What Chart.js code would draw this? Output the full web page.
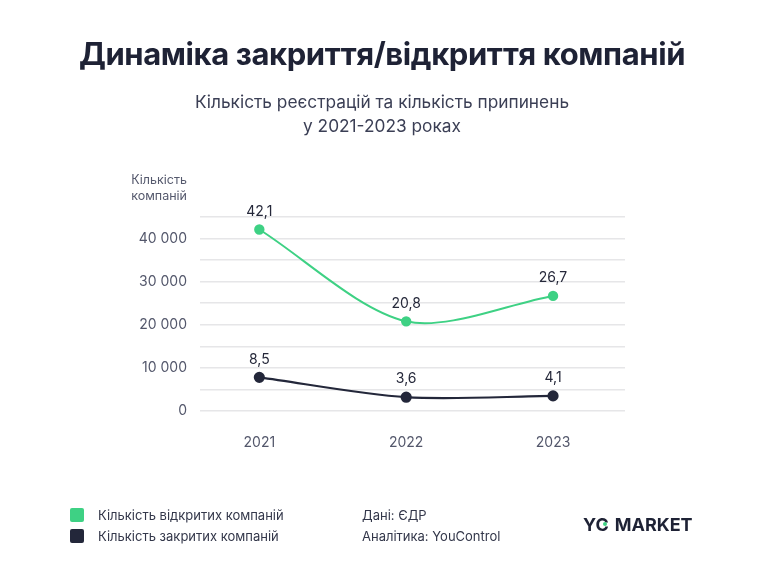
<!DOCTYPE html>
<html>
<head>
<meta charset="utf-8">
<script src="https://cdn.jsdelivr.net/npm/chart.js@4"></script>
<style>
    body { margin: 0; background: #ffffff; font-family: Inter, "Noto Sans", sans-serif; }
    #page { position: relative; width: 764px; height: 582px; overflow: hidden; }
    #chart { position: absolute; left: 0; top: 0; }
    .title { position: absolute; left: 0; width: 764px; top: 35px; text-align: center;
             font-size: 31px; font-weight: 700; color: #1e2235; letter-spacing: -0.4px; }
    .subtitle { position: absolute; left: 0; width: 764px; top: 90px; text-align: center;
                font-size: 17.3px; line-height: 24px; color: #3b3f55; }
    .ytitle { position: absolute; right: 577px; top: 172px; text-align: right;
              font-size: 12.5px; line-height: 16px; color: #55596d; }
    .legend { position: absolute; left: 70px; top: 507px; font-size: 13px; color: #33374a; }
    .legend div { height: 21px; line-height: 16px; position: relative; padding-left: 28px; }
    .legend span { position: absolute; left: 0; top: 1px; width: 14px; height: 14px; border-radius: 2px; }
    .source { position: absolute; left: 362px; top: 507px; font-size: 13px; color: #33374a; }
    .source div { height: 21px; line-height: 16px; }
    .logo { position: absolute; left: 583px; top: 514px; font-size: 18px; font-weight: 700;
            color: #1e2235; letter-spacing: 0; }
    .logo i { display: inline-block; width: 4px; height: 4px; border-radius: 2px; background: #3ed184;
              margin-left: -6px; margin-right: 8px; vertical-align: 5px; }
</style>
</head>
<body>
<div id="page">
    <canvas id="chart" width="764" height="582"></canvas>
    <div class="title">Динаміка закриття/відкриття компаній</div>
    <div class="subtitle">Кількість реєстрацій та кількість припинень<br>у 2021-2023 роках</div>
    <div class="ytitle">Кількість<br>компаній</div>
    <div class="legend" id="legend"></div>
    <div class="source"><div>Дані: ЄДР</div><div>Аналітика: YouControl</div></div>
    <div class="logo">YC<i></i>MARKET</div>
</div>
<script>
// chart data
const years = [2021, 2022, 2023];
const openedValues = [42100, 20800, 26700];
const closedValues = [7800, 3200, 3500];
const openedLabels = ['42,1', '20,8', '26,7'];
const closedLabels = ['8,5', '3,6', '4,1'];
const seriesNames = ['Кількість відкритих компаній', 'Кількість закритих компаній'];
const seriesColors = ['#3ed184', '#23273a'];
const yTicks = [0, 10000, 20000, 30000, 40000];

function formatThousands(v) {
    return String(v).replace(/\B(?=(\d{3})+(?!\d))/g, ' ');
}

// legend in the footer
const legendBox = document.getElementById('legend');
seriesNames.forEach(function(name, i) {
    const row = document.createElement('div');
    row.innerHTML = '<span style="background:' + seriesColors[i] + '"></span>' + name;
    legendBox.appendChild(row);
});

// value labels above the points
const pointLabels = {
    id: 'pointLabels',
    afterDatasetsDraw(chart) {
        const ctx = chart.ctx;
        ctx.save();
        ctx.font = '14px Inter, "Noto Sans", sans-serif';
        ctx.fillStyle = '#25283a';
        ctx.textAlign = 'center';
        ctx.textBaseline = 'middle';
        chart.data.datasets.forEach(function(ds, i) {
            chart.getDatasetMeta(i).data.forEach(function(pt, j) {
                ctx.fillText(ds.valueLabels[j], pt.x, pt.y - 18);
            });
        });
        ctx.restore();
    }
};

new Chart(document.getElementById('chart').getContext('2d'), {
    type: 'line',
    data: {
        datasets: [{
                label: seriesNames[0],
                data: years.map((y, i) => ({ x: y, y: openedValues[i] })),
                valueLabels: openedLabels,
                borderColor: seriesColors[0],
                backgroundColor: seriesColors[0],
                borderWidth: 2,
                pointRadius: 4.2,
                tension: 0.3
            },
            {
                label: seriesNames[1],
                data: years.map((y, i) => ({ x: y, y: closedValues[i] })),
                valueLabels: closedLabels,
                borderColor: seriesColors[1],
                backgroundColor: seriesColors[1],
                borderWidth: 2.2,
                pointRadius: 4.5,
                tension: 0.3
            }
        ]
    },
    options: {
        responsive: false,
        animation: false,
        layout: {
            padding: { top: 217, right: 139, left: 0, bottom: 0 }
        },
        plugins: {
            legend: { display: false },
            tooltip: { enabled: false }
        },
        scales: {
            x: {
                type: 'linear',
                min: 2020.596,
                max: 2023.49,
                afterBuildTicks: function(scale) {
                    scale.ticks = years.map(v => ({ value: v }));
                },
                afterFit: function(scale) { scale.height = 171; },
                grid: { display: false },
                border: { display: false },
                ticks: {
                    padding: 15,
                    color: '#53576b',
                    font: { size: 14, family: 'Inter' },
                    callback: v => String(v)
                }
            },
            y: {
                min: 0,
                max: 45000,
                afterFit: function(scale) { scale.width = 200; },
                grid: { color: '#e6e6e8', lineWidth: 1.5, drawTicks: false },
                border: { display: false },
                ticks: {
                    stepSize: 5000,
                    padding: 13,
                    color: '#53576b',
                    font: { size: 14, family: 'Inter' },
                    callback: v => yTicks.includes(v) ? formatThousands(v) : ''
                }
            }
        }
    },
    plugins: [pointLabels]
});
</script>
</body>
</html>
